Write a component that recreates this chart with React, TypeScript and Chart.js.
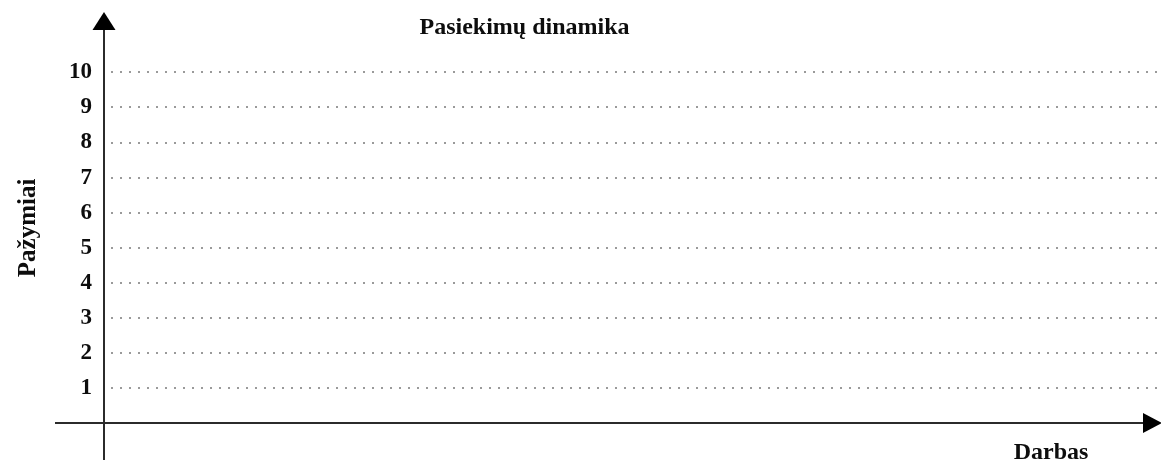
import React, { useEffect, useRef } from "react";
import { Chart, registerables } from "chart.js";

Chart.register(...registerables);

// ---- data ----
const chartTitle = "Pasiekimų dinamika";
const yAxisTitle = "Pažymiai";
const xAxisTitle = "Darbas";
const categories: string[] = []; // no works recorded yet
const scores: number[] = []; // empty template chart
const yTickValues = [1, 2, 3, 4, 5, 6, 7, 8, 9, 10];
const yMin = 0;
const yMax = 11.13;

const INK = "#0d0d0d";
const AXIS = "#2b2b2b";

const axesPlugin = {
  id: "axesArrows",
  afterDraw(chart: any) {
    const { ctx, chartArea } = chart;
    const yScale = chart.scales.y;
    const yAxisX = chartArea.left - 7;
    const zeroY = yScale.getPixelForValue(0);
    ctx.save();
    ctx.strokeStyle = AXIS;
    ctx.fillStyle = "#000";
    ctx.lineWidth = 2;
    // vertical axis
    ctx.beginPath();
    ctx.moveTo(yAxisX, 28);
    ctx.lineTo(yAxisX, 460);
    ctx.stroke();
    ctx.beginPath();
    ctx.moveTo(yAxisX, 12);
    ctx.lineTo(yAxisX - 11.5, 30);
    ctx.lineTo(yAxisX + 11.5, 30);
    ctx.closePath();
    ctx.fill();
    // horizontal axis
    ctx.beginPath();
    ctx.moveTo(55, zeroY);
    ctx.lineTo(1146, zeroY);
    ctx.stroke();
    ctx.beginPath();
    ctx.moveTo(1162, zeroY);
    ctx.lineTo(1143, zeroY - 10);
    ctx.lineTo(1143, zeroY + 10);
    ctx.closePath();
    ctx.fill();
    // titles
    ctx.fillStyle = INK;
    ctx.textBaseline = "alphabetic";
    ctx.font = "bold 24px 'Liberation Serif'";
    ctx.textAlign = "center";
    ctx.fillText(chartTitle, 524.5, 34);
    ctx.font = "bold 24px 'Liberation Serif'";
    ctx.textAlign = "center";
    ctx.fillText(xAxisTitle, 1051, 459);
    ctx.restore();
  },
};

export default function App() {
  const ref = useRef<HTMLCanvasElement | null>(null);
  useEffect(() => {
    if (!ref.current) return;
    const chart = new Chart(ref.current, {
      type: "line",
      data: {
        labels: categories,
        datasets: [
          {
            label: yAxisTitle,
            data: scores,
            borderColor: "#000",
            backgroundColor: "#000",
          },
        ],
      },
      options: {
        animation: false,
        responsive: true,
        maintainAspectRatio: false,
        layout: { padding: { top: 30, right: 1, bottom: 0, left: 0 } },
        plugins: {
          legend: { display: false },
          title: { display: false },
          tooltip: { enabled: false },
        },
        scales: {
          x: {
            type: "linear",
            min: 0,
            max: 1,
            ticks: { display: false },
            grid: { display: false },
            border: { display: false },
            title: { display: false, text: xAxisTitle },
            afterFit(scale: any) {
              scale.height = 43;
            },
          },
          y: {
            min: yMin,
            max: yMax,
            afterBuildTicks(scale: any) {
              scale.ticks = yTickValues.map((v) => ({ value: v }));
            },
            ticks: {
              padding: 19,
              color: INK,
              font: { family: "'Liberation Serif'", size: 23, weight: "bold" },
            },
            grid: {
              drawTicks: false,
              color: "#9a9a9a",
              lineWidth: 2,
            },
            border: { display: false, dash: [2, 7] },
            title: {
              display: true,
              text: yAxisTitle,
              color: INK,
              font: { family: "'Liberation Serif'", size: 25, weight: "bold" },
              padding: { top: 14, bottom: 0 },
            },
            afterFit(scale: any) {
              scale.width = 111;
            },
          },
        },
      },
      plugins: [axesPlugin],
    });
    return () => chart.destroy();
  }, []);
  return (
    <div style={{ position: "fixed", left: 0, top: 0, width: 1161, height: 466, background: "#fff" }}>
      <canvas ref={ref} />
    </div>
  );
}
